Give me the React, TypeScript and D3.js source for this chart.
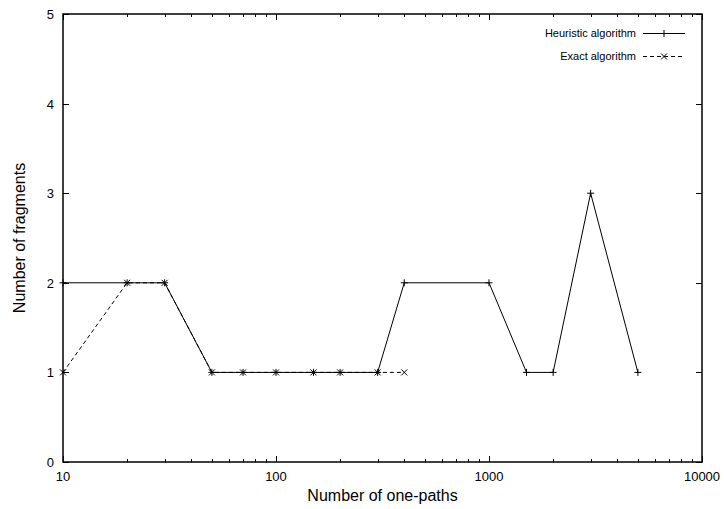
import React, { useEffect, useRef } from 'react'
import * as d3 from 'd3'

const xValues = [10, 20, 30, 50, 70, 100, 150, 200, 300, 400, 1000, 1500, 2000, 3000, 5000]
const heuristic = [2, 2, 2, 1, 1, 1, 1, 1, 1, 2, 2, 1, 1, 3, 1]
const exactX = [10, 20, 30, 50, 70, 100, 150, 200, 300, 400]
const exact = [1, 2, 2, 1, 1, 1, 1, 1, 1, 1]
const xTickLabels = [10, 100, 1000, 10000]
const yTickLabels = [0, 1, 2, 3, 4, 5]

const App = () => {
  const ref = useRef(null)
  useEffect(() => {
    if (!ref.current) return
    d3.select(ref.current).selectAll('*').remove()

    const width = 724
    const height = 509
    const m = { left: 63, right: 22, top: 14, bottom: 47 }
    const font = '"Liberation Sans", Arial, sans-serif'

    const svg = d3.select(ref.current).attr('width', width).attr('height', height)

    const x = d3.scaleLog().domain([10, 10000]).range([m.left, width - m.right])
    const y = d3.scaleLinear().domain([0, 5]).range([height - m.bottom, m.top])

    // minor ticks (inside, top + bottom)
    const minors: number[] = []
    for (let d = 10; d < 10000; d *= 10) {
      for (let k = 2; k <= 9; k++) minors.push(d * k)
    }
    const tg = svg.append('g').attr('stroke', '#000').attr('stroke-width', 1)
    minors.forEach((v) => {
      const px = Math.round(x(v)) + 0.5
      tg.append('line').attr('x1', px).attr('x2', px).attr('y1', y(0)).attr('y2', y(0) - 3)
      tg.append('line').attr('x1', px).attr('x2', px).attr('y1', y(5)).attr('y2', y(5) + 3)
    })
    xTickLabels.forEach((v) => {
      const px = Math.round(x(v)) + 0.5
      tg.append('line').attr('x1', px).attr('x2', px).attr('y1', y(0)).attr('y2', y(0) - 6)
      tg.append('line').attr('x1', px).attr('x2', px).attr('y1', y(5)).attr('y2', y(5) + 6)
      svg.append('text')
        .attr('x', x(v))
        .attr('y', y(0) + 19)
        .attr('text-anchor', 'middle')
        .style('font-family', font)
        .style('font-size', '13px')
        .text(v)
    })
    yTickLabels.forEach((v) => {
      const py = Math.round(y(v)) + 0.5
      tg.append('line').attr('x1', x(10)).attr('x2', x(10) + 6).attr('y1', py).attr('y2', py)
      tg.append('line').attr('x1', x(10000)).attr('x2', x(10000) - 6).attr('y1', py).attr('y2', py)
      svg.append('text')
        .attr('x', x(10) - 9)
        .attr('y', y(v) + 5)
        .attr('text-anchor', 'end')
        .style('font-family', font)
        .style('font-size', '13px')
        .text(v)
    })

    // frame
    svg.append('rect')
      .attr('x', x(10))
      .attr('y', y(5))
      .attr('width', x(10000) - x(10))
      .attr('height', y(0) - y(5))
      .attr('fill', 'none')
      .attr('stroke', '#000')
      .attr('stroke-width', 1.5)

    const line = d3.line<[number, number]>().x((d) => x(d[0])).y((d) => y(d[1]))

    const hData: [number, number][] = xValues.map((v, i) => [v, heuristic[i]])
    const eData: [number, number][] = exactX.map((v, i) => [v, exact[i]])

    const plusMark = (g: any, px: number, py: number) => {
      g.append('line').attr('x1', px - 3.5).attr('x2', px + 3.5).attr('y1', py).attr('y2', py)
      g.append('line').attr('x1', px).attr('x2', px).attr('y1', py - 3.5).attr('y2', py + 3.5)
    }
    const crossMark = (g: any, px: number, py: number) => {
      g.append('line').attr('x1', px - 3).attr('x2', px + 3).attr('y1', py - 3).attr('y2', py + 3)
      g.append('line').attr('x1', px - 3).attr('x2', px + 3).attr('y1', py + 3).attr('y2', py - 3)
    }

    svg.append('path')
      .attr('d', line(hData))
      .attr('fill', 'none')
      .attr('stroke', '#000')
      .attr('stroke-width', 1)
    const hg = svg.append('g').attr('stroke', '#000').attr('stroke-width', 1)
    hData.forEach((d) => plusMark(hg, x(d[0]), y(d[1])))

    svg.append('path')
      .attr('d', line(eData))
      .attr('fill', 'none')
      .attr('stroke', '#000')
      .attr('stroke-width', 1)
      .attr('stroke-dasharray', '4,3')
    const eg = svg.append('g').attr('stroke', '#000').attr('stroke-width', 1)
    eData.forEach((d) => crossMark(eg, x(d[0]), y(d[1])))

    // legend
    const lx1 = 643
    const lx2 = 685
    const rows = [
      { label: 'Heuristic algorithm', yy: 33, dash: null, mark: plusMark },
      { label: 'Exact algorithm', yy: 56, dash: '4,3', mark: crossMark },
    ]
    rows.forEach((r) => {
      svg.append('text')
        .attr('x', 636)
        .attr('y', r.yy + 4)
        .attr('text-anchor', 'end')
        .style('font-family', font)
        .style('font-size', '11px')
        .text(r.label)
      svg.append('line')
        .attr('x1', lx1)
        .attr('x2', lx2)
        .attr('y1', r.yy + 0.5)
        .attr('y2', r.yy + 0.5)
        .attr('stroke', '#000')
        .attr('stroke-width', 1)
        .attr('stroke-dasharray', r.dash)
      const g = svg.append('g').attr('stroke', '#000').attr('stroke-width', 1)
      r.mark(g, (lx1 + lx2) / 2, r.yy + 0.5)
    })

    // axis titles
    svg.append('text')
      .attr('x', (x(10) + x(10000)) / 2)
      .attr('y', 501)
      .attr('text-anchor', 'middle')
      .style('font-family', font)
      .style('font-size', '16px')
      .text('Number of one-paths')
    svg.append('text')
      .attr('transform', `translate(25, ${(y(0) + y(5)) / 2}) rotate(-90)`)
      .attr('text-anchor', 'middle')
      .style('font-family', font)
      .style('font-size', '16px')
      .text('Number of fragments')
  }, [])

  return (
    <div style={{ position: 'absolute', left: 0, top: 0 }}>
      <svg ref={ref} width="724" height="509" />
    </div>
  )
}

export default App
